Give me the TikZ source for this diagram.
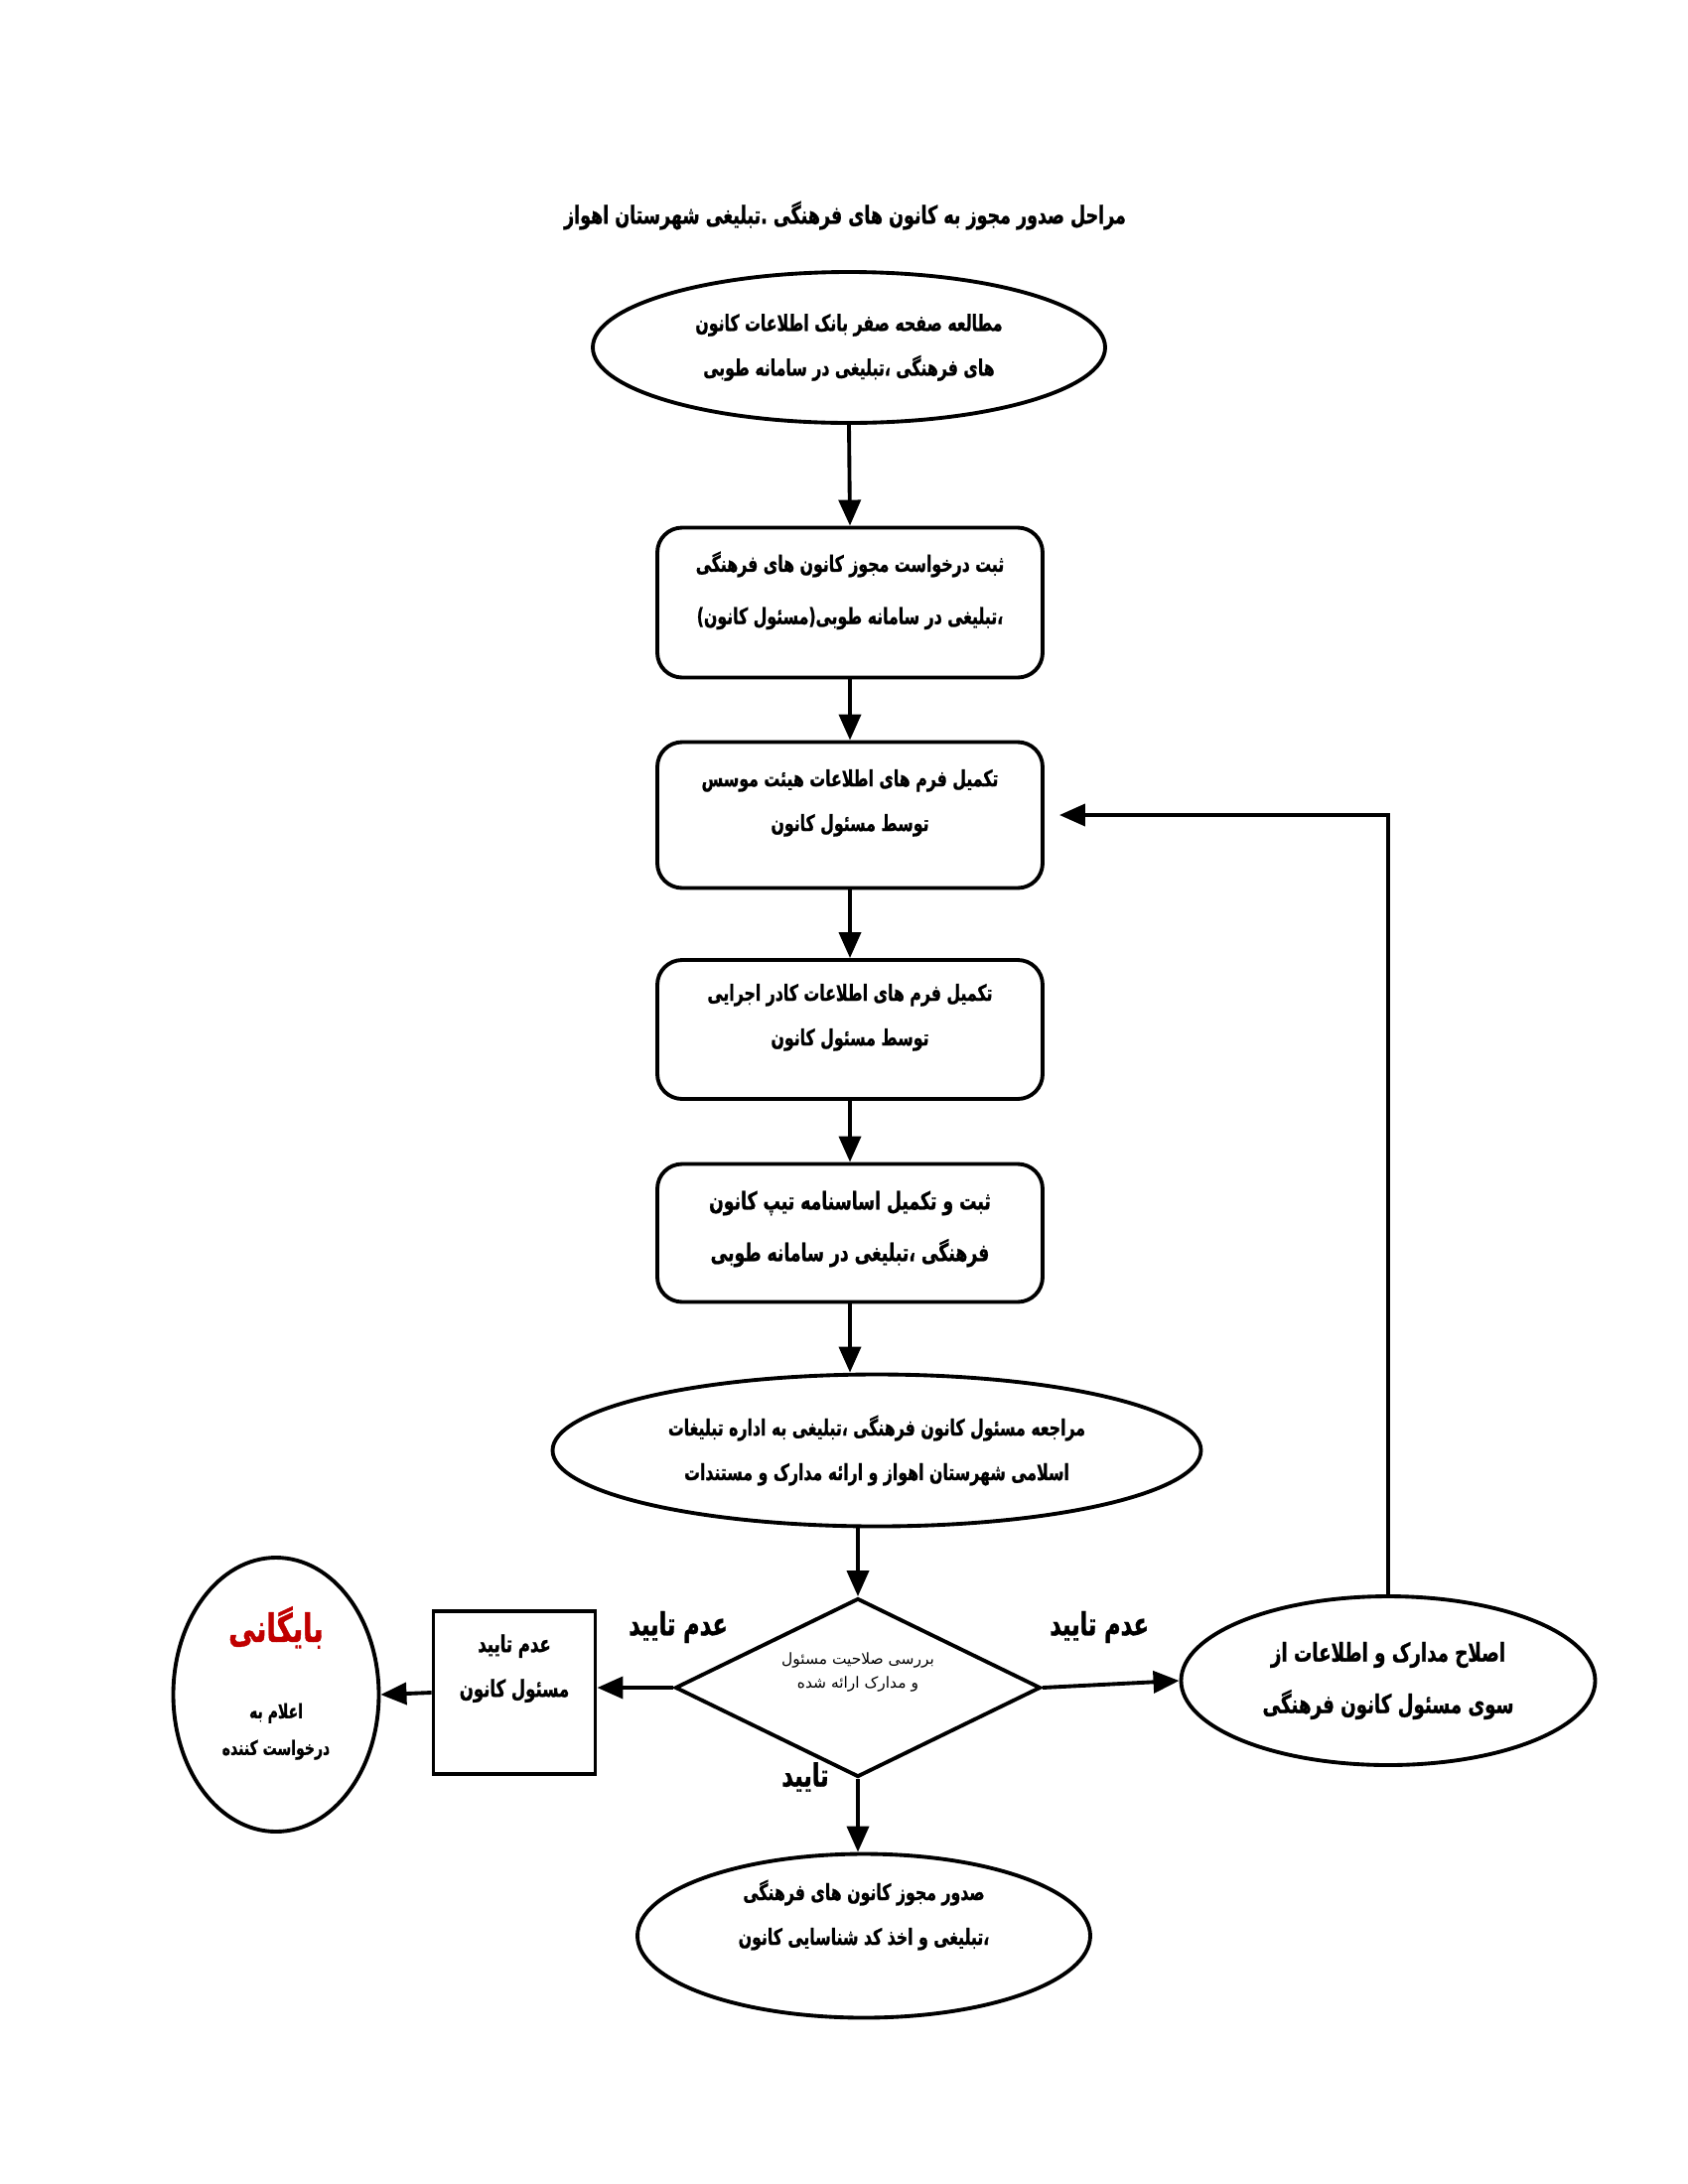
\documentclass[tikz,border=0pt]{standalone}
\usepackage{fontspec}
\usepackage{xcolor}
\usetikzlibrary{arrows.meta,shapes.geometric}
\TeXXeTstate=1
\newfontfamily\fafont[Script=Arabic,FakeStretch=0.7,BoldFeatures={FakeBold=1}]{DejaVu Sans}
\newfontfamily\faplain[Script=Arabic]{DejaVu Sans}
\newcommand{\farsi}[1]{\beginR #1\endR}
\definecolor{archivered}{RGB}{192,0,0}
\tikzset{%
    step node/.style={%
        rectangle, draw, rounded corners=2.5mm, align=center, text depth=8.5pt,
        minimum width=38.8mm, font=\fafont\bfseries\fontsize{6.4}{12.8}\selectfont
    },
    oval node/.style={%
        ellipse, draw, align=center, inner sep=0pt,
        font=\fafont\bfseries\fontsize{6.4}{12.8}\selectfont
    }
}

\begin{document}
\begin{tikzpicture}[x=0.1mm,y=-0.1mm,->,>={Triangle[length=2.6mm,width=2.2mm]},
  line width=1.1pt,
  answer/.style={draw=none,font=\fafont\bfseries\fontsize{9.1}{10}\selectfont}]
  \useasboundingbox (0,0) rectangle (1700,2200);

  \node[draw=none,font=\fafont\bfseries\fontsize{7.1}{8}\selectfont] (title) at (851,217)
    {\farsi{مراحل صدور مجوز به کانون های فرهنگی .تبلیغی شهرستان اهواز}};

  \node[oval node,minimum width=51.6mm,minimum height=15.2mm] (1) at (855,350)
    {\farsi{مطالعه صفحه صفر بانک اطلاعات کانون}\\ \farsi{های فرهنگی ،تبلیغی در سامانه طوبی}};
  \node[step node,minimum height=15.1mm,font=\fafont\bfseries\fontsize{6.4}{15}\selectfont] (2) at (856,607)
    {\farsi{ثبت درخواست مجوز کانون های فرهنگی}\\ \farsi{،تبلیغی در سامانه طوبی(مسئول کانون)}};
  \node[step node,minimum height=14.7mm] (3) at (856,821)
    {\farsi{تکمیل فرم های اطلاعات هیئت موسس}\\ \farsi{توسط مسئول کانون}};
  \node[step node,minimum height=14mm] (4) at (856,1037)
    {\farsi{تکمیل فرم های اطلاعات کادر اجرایی}\\ \farsi{توسط مسئول کانون}};
  \node[step node,minimum height=13.9mm,text depth=4pt,
    font=\fafont\bfseries\fontsize{7}{14.8}\selectfont] (5) at (856,1242)
    {\farsi{ثبت و تکمیل اساسنامه تیپ کانون}\\ \farsi{فرهنگی ،تبلیغی در سامانه طوبی}};
  \node[oval node,minimum width=65.3mm,minimum height=15.3mm] (6) at (883,1461)
    {\farsi{مراجعه مسئول کانون فرهنگی ،تبلیغی به اداره تبلیغات}\\ \farsi{اسلامی شهرستان اهواز و ارائه مدارک و مستندات}};
  \node[diamond,draw,aspect=2.04,inner sep=0pt,minimum width=36.8mm,minimum height=18mm,
    align=center,text depth=10pt,font=\faplain\fontsize{4.4}{7}\selectfont] (7) at (864,1700)
    {\farsi{بررسی صلاحیت مسئول}\\ \farsi{و مدارک ارائه شده}};
  \node[oval node,minimum width=45.6mm,minimum height=16.5mm,text depth=13.5pt] (8) at (870,1950)
    {\farsi{صدور مجوز کانون های فرهنگی}\\ \farsi{،تبلیغی و اخذ کد شناسایی کانون}};
  \node[oval node,minimum width=41.7mm,minimum height=17mm,
    font=\fafont\bfseries\fontsize{7.4}{14.8}\selectfont] (9) at (1398,1693)
    {\farsi{اصلاح مدارک و اطلاعات از}\\ \farsi{سوی مسئول کانون فرهنگی}};
  \node[rectangle,draw,align=center,minimum width=16.3mm,minimum height=16.4mm,text depth=15.5pt,
    font=\fafont\bfseries\fontsize{6.7}{12.8}\selectfont] (10) at (518,1705)
    {\farsi{عدم تایید}\\ \farsi{مسئول کانون}};
  \node[oval node,minimum width=20.7mm,minimum height=27.6mm,text depth=8pt,
    font=\fafont\bfseries\fontsize{5.7}{10.5}\selectfont] (11) at (278,1707)
    {\textcolor{archivered}{\fontsize{11.2}{11}\selectfont\farsi{بایگانی}}\\[4mm]
     \farsi{اعلام به}\\ \farsi{درخواست کننده}};

  \node[answer] (no left) at (683,1639) {\farsi{عدم تایید}};
  \node[answer] (no right) at (1107,1639) {\farsi{عدم تایید}};
  \node[answer] (yes) at (811,1790) {\farsi{تایید}};

\path
	(1.south) edge (2.north)
	(2.south) edge (3.north)
	(3.south) edge (4.north)
	(4.south) edge (5.north)
	(5.south) edge (5.south |- 6.north)
	(7.north |- 6.south) edge (7.north)
	(7.south) edge (7.south |- 8.north)
	(7.west) edge (7.west -| 10.east)
	(10.west) edge (11.east)
	(7.east) edge (9.west);
\draw[shorten >=1.5mm] (9.north) |- (3.east);
\end{tikzpicture}
\end{document}
